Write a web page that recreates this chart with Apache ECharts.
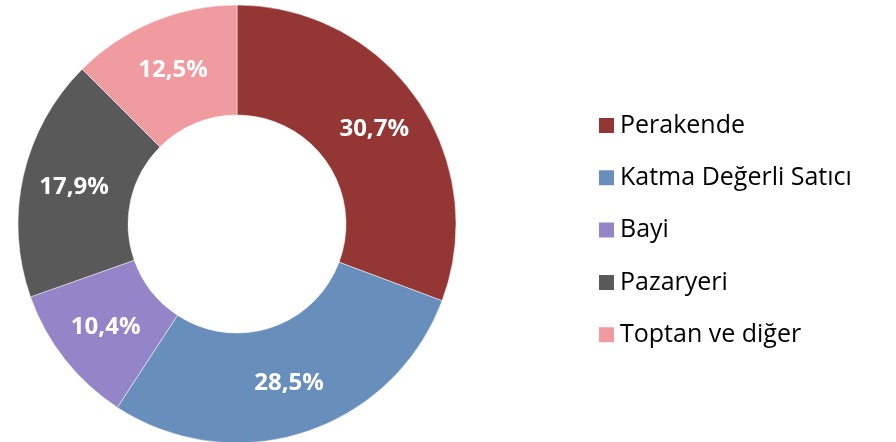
<!DOCTYPE html>
<html>
<head>
  <meta charset="utf-8">
  <title>Satış kanalları</title>
  <script src="https://cdn.jsdelivr.net/npm/echarts@6/dist/echarts.min.js"></script>
  <style>
    html, body { margin: 0; padding: 0; background: #fff; }
    #main { width: 896px; height: 442px; }
  </style>
</head>
<body>
  <div id="main"></div>
  <script type="text/javascript">
    // kanal adları ve payları (%)
    var categories = ['Perakende', 'Katma Değerli Satıcı', 'Bayi', 'Pazaryeri', 'Toptan ve diğer'];
    var shares = [30.7, 28.5, 10.4, 17.9, 12.5];
    var colors = ['#943634', '#688EBC', '#9484C8', '#595959', '#F09BA0'];

    var myChart = echarts.init(document.getElementById('main'));

    var pieData = categories.map(function (name, i) {
      return { name: name, value: shares[i], itemStyle: { color: colors[i] } };
    });

    var option = {
      animation: false,
      legend: {
        orient: 'vertical',
        left: 597,
        top: 113,
        padding: 0,
        itemWidth: 17,
        itemHeight: 17,
        itemGap: 27.3,
        icon: 'rect',
        textStyle: {
          fontFamily: 'Open Sans',
          fontSize: 25,
          lineHeight: 24,
          color: '#000',
          padding: [0, 0, 0, 0]
        },
        data: categories
      },
      series: [{
        type: 'pie',
        center: [237, 224],
        radius: [109, 219],
        startAngle: 90,
        clockwise: true,
        itemStyle: { borderColor: '#fff', borderWidth: 0.5 },
        label: {
          position: 'inside',
          color: '#fff',
          fontFamily: 'Open Sans',
          fontWeight: 'bold',
          fontSize: 24,
          formatter: function (p) {
            return p.value.toFixed(1).replace('.', ',') + '%';
          }
        },
        labelLine: { show: false },
        emphasis: { disabled: true },
        data: pieData
      }]
    };
    myChart.setOption(option);
  </script>
</body>
</html>
